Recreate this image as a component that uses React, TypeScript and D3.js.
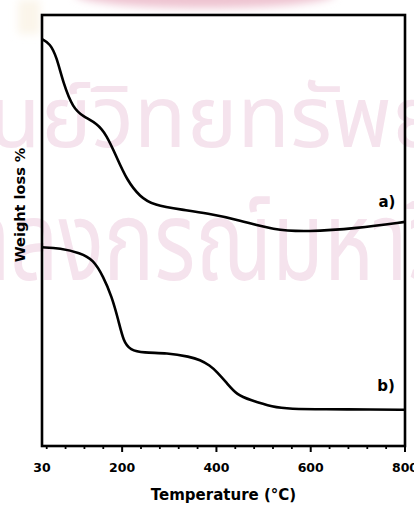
import React from "react";
import * as d3 from "d3";

// TGA traces: temperature (°C) vs relative weight (arbitrary units, no y ticks)
const tempA = [30, 47, 61, 75, 96, 118, 146, 167, 188, 210, 238, 266, 329, 379, 450, 521, 592, 698, 800];
const weightA = [94.4, 93.4, 90.3, 84.2, 78.3, 76.4, 74.9, 72.2, 67.1, 61.7, 57.8, 55.9, 54.8, 54.0, 52.4, 50.1, 49.7, 50.5, 52.0];

const tempB = [30, 68, 111, 139, 160, 178, 192, 203, 217, 245, 295, 344, 365, 386, 401, 422, 444, 471, 520, 556, 627, 733, 800];
const weightB = [46.1, 45.9, 44.8, 43.2, 39.3, 34.7, 29.2, 24.2, 22.3, 21.6, 21.6, 20.7, 20.0, 18.7, 17.2, 14.6, 11.8, 10.7, 9.0, 8.6, 8.5, 8.5, 8.4];

const tickLabels = [30, 200, 400, 600, 800];
const majorTicks = [200, 400, 600, 800];
const minorTicks = d3.range(40, 800, 40).filter((t) => t % 200 !== 0);

const seriesLabels = ["a)", "b)"];
const watermarkLines = ["ศูนย์วิทยทรัพยากร", "จุฬาลงกรณ์มหาวิทยาลัย"];

const W = 414;
const H = 505;
const left = 42;
const right = 405;
const top = 15;
const bottom = 446;

export default function App() {
  const x = d3.scaleLinear().domain([30, 800]).range([left, right]);
  const y = d3.scaleLinear().domain([0, 100]).range([bottom, top]);

  const line = d3
    .line<[number, number]>()
    .x((d) => x(d[0]))
    .y((d) => y(d[1]))
    .curve(d3.curveBasis);

  const pathA = line(tempA.map((t, i) => [t, weightA[i]] as [number, number])) || "";
  const pathB = line(tempB.map((t, i) => [t, weightB[i]] as [number, number])) || "";

  const font = "'DejaVu Sans', Verdana, sans-serif";

  return (
    <svg
      width={W}
      height={H}
      viewBox={`0 0 ${W} ${H}`}
      style={{ position: "absolute", left: 0, top: 0, background: "#fff" }}
    >
      <defs>
        <filter id="soft" x="-50%" y="-50%" width="200%" height="200%">
          <feGaussianBlur stdDeviation="4" />
        </filter>
      </defs>
      <rect x={0} y={0} width={W} height={H} fill="#fff" />

      {/* faint library watermark behind the plot */}
      <ellipse cx={205} cy={-6} rx={130} ry={14} fill="#eec3d0" filter="url(#soft)" />
      <rect x={18} y={0} width={22} height={34} fill="#fbf5ea" filter="url(#soft)" />
      <g fill="#f5e3ed" fontFamily="'Noto Sans Thai', 'Noto Sans', sans-serif" fontWeight={400}>
        <text x={-66} y={147} fontSize={86}>
          {watermarkLines[0]}
        </text>
        <text transform="translate(-125, 280) scale(0.98, 1.3)" fontSize={86}>
          {watermarkLines[1]}
        </text>
      </g>

      {/* traces */}
      <path d={pathA} fill="none" stroke="#000" strokeWidth={2.6} strokeLinejoin="round" />
      <path d={pathB} fill="none" stroke="#000" strokeWidth={2.6} strokeLinejoin="round" />

      {/* plot frame */}
      <rect
        x={left}
        y={top}
        width={right - left}
        height={bottom - top}
        fill="none"
        stroke="#000"
        strokeWidth={2.6}
      />

      {/* bottom axis ticks */}
      {minorTicks.map((t) => (
        <line key={`m${t}`} x1={x(t)} x2={x(t)} y1={bottom} y2={bottom + 3} stroke="#000" strokeWidth={1.8} />
      ))}
      {majorTicks.map((t) => (
        <line key={`M${t}`} x1={x(t)} x2={x(t)} y1={bottom} y2={bottom + 6} stroke="#000" strokeWidth={2} />
      ))}
      {tickLabels.map((t) => (
        <text
          key={`l${t}`}
          x={x(t)}
          y={472}
          textAnchor="middle"
          fontFamily={font}
          fontWeight={700}
          fontSize={12.5}
          fill="#000"
        >
          {t}
        </text>
      ))}

      {/* axis titles */}
      <text
        x={(left + right) / 2}
        y={500}
        textAnchor="middle"
        fontFamily={font}
        fontWeight={700}
        fontSize={15}
        fill="#000"
      >
        Temperature (°C)
      </text>
      <text
        transform={`translate(25, 205) rotate(-90)`}
        textAnchor="middle"
        fontFamily={font}
        fontWeight={700}
        fontSize={14.5}
        fill="#000"
      >
        Weight loss %
      </text>

      {/* series labels */}
      <text x={387} y={207} textAnchor="middle" fontFamily={font} fontWeight={700} fontSize={15} fill="#000">
        {seriesLabels[0]}
      </text>
      <text x={386} y={391} textAnchor="middle" fontFamily={font} fontWeight={700} fontSize={15} fill="#000">
        {seriesLabels[1]}
      </text>
    </svg>
  );
}
